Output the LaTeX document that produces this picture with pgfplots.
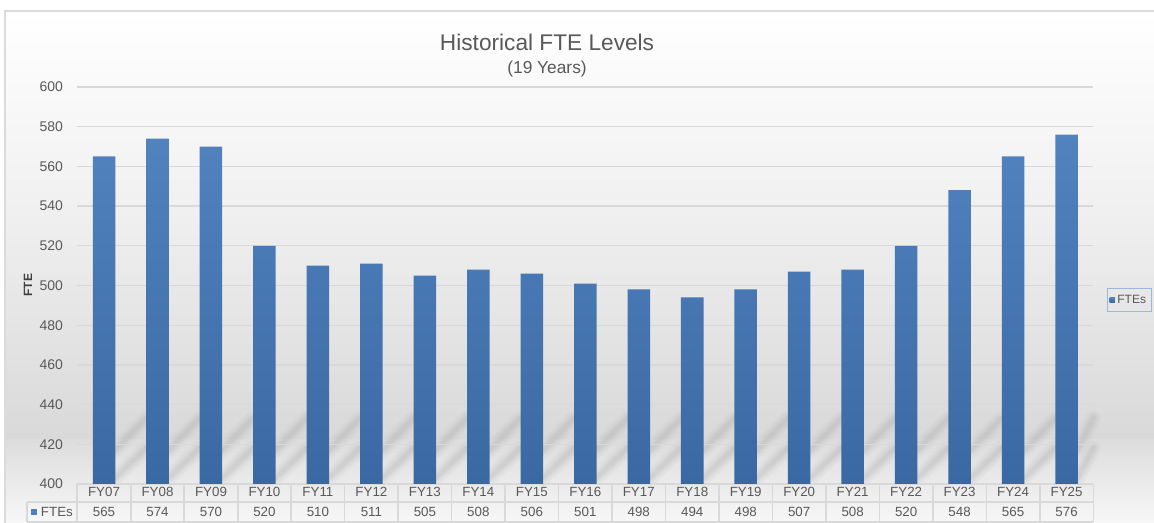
\documentclass[border=0pt]{standalone}
\usepackage{fontspec}
\setmainfont{Liberation Sans}
\usepackage{pgfplots}
\usepackage{pgfplotstable}
\pgfplotsset{compat=1.18}

\definecolor{bartop}{HTML}{5283BF}
\definecolor{barbot}{HTML}{3A68A2}
\definecolor{txt}{HTML}{595959}
\definecolor{gridc}{HTML}{D9D9D9}
\definecolor{legc}{HTML}{9BB7DA}

\pgfplotstableread{
x year fte
0  FY07 565
1  FY08 574
2  FY09 570
3  FY10 520
4  FY11 510
5  FY12 511
6  FY13 505
7  FY14 508
8  FY15 506
9  FY16 501
10 FY17 498
11 FY18 494
12 FY19 498
13 FY20 507
14 FY21 508
15 FY22 520
16 FY23 548
17 FY24 565
18 FY25 576
}\ftedata

\begin{document}
\begin{tikzpicture}
% chart-area background
\fill[top color=white, bottom color=white!94.5!black] (-54.45pt,355pt) rectangle (807.525pt,213pt);
\fill[top color=white!94.5!black, bottom color=white!85!black] (-54.45pt,213.1pt) rectangle (807.525pt,33pt);
\fill[top color=white!86.5!black, bottom color=white!97!black] (-54.45pt,33.1pt) rectangle (807.525pt,-29.25pt);
% soft reflection streaks
\foreach \k in {0,...,18}{
  \pgfmathsetmacro{\gl}{(\k+0.5)*40.105+8.45}
  \pgfmathsetmacro{\gr}{min((\k+1.5)*40.105-8.45,762)}
  \foreach \ya/\yb in {25.5/49.5, 4.5/27}{
    \draw[black!45, opacity=0.06, line width=11pt, line cap=round] (\gl pt,\ya pt) -- (\gr pt,\yb pt);
    \draw[black!45, opacity=0.08, line width=7pt, line cap=round] (\gl pt,\ya pt) -- (\gr pt,\yb pt);
    \draw[black!45, opacity=0.10, line width=3.5pt, line cap=round] (\gl pt,\ya pt) -- (\gr pt,\yb pt);
  }
}
% outer frame
\draw[white!86!black, line width=1.3pt] (-54.45pt,-29.25pt) -- (-54.45pt,355pt) -- (807.525pt,355pt);

\begin{axis}[
  at={(0,0)}, anchor=south west,
  scale only axis, width=762pt, height=297.75pt,
  xmin=-0.5, xmax=18.5, ymin=400, ymax=600,
  xtick={0,...,18},
  xticklabels={FY07,FY08,FY09,FY10,FY11,FY12,FY13,FY14,FY15,FY16,FY17,FY18,FY19,FY20,FY21,FY22,FY23,FY24,FY25},
  ytick={400,420,...,600},
  /pgf/number format/assume math mode=true,
  axis line style={draw=none},
  major tick length=0pt,
  ymajorgrids, grid style={gridc, line width=1pt},
  tick label style={text=txt},
  yticklabel style={font=\fontsize{10.5}{12}\selectfont, anchor=east, xshift=-7.2pt},
  xticklabel style={font=\fontsize{10}{12}\selectfont, anchor=base, yshift=-9.5pt},
  ylabel={FTE},
  ylabel style={at={(axis description cs:-0.0485,0.501)}, anchor=center, font=\bfseries\fontsize{9}{10}\selectfont, text=black!75},
  legend style={at={(1.0135,0.4635)}, anchor=west, draw=legc, fill=none,
    font=\fontsize{9}{10}\selectfont, text=txt, inner xsep=1.8pt, inner ysep=2.6pt},
  legend cell align=left,
]
\addplot[ybar, bar width=16.9pt, draw=none, top color=bartop, bottom color=barbot,
  legend image code/.code={\fill[bartop] (0pt,-1.9pt) rectangle (3.75pt,1.9pt);}]
  table[x=x, y=fte] {\ftedata};
\addlegendentry{FTEs}
\addplot[draw=none, mark=none, forget plot, nodes near coords, point meta=explicit symbolic,
  nodes near coords style={anchor=base, yshift=-24.5pt, font=\fontsize{10}{12}\selectfont, text=txt}]
  table[x=x, y expr=400, meta=fte] {\ftedata};
\end{axis}

% data table grid
\foreach \k in {0,...,19}{
  \draw[gridc, line width=1.2pt] (\k*40.105pt,0pt) -- (\k*40.105pt,-28.3pt);
}
\draw[gridc, line width=1.2pt] (-37.7pt,-13.7pt) -- (762pt,-13.7pt);
\draw[gridc, line width=1.2pt] (-37.7pt,-28.3pt) -- (762pt,-28.3pt);
\draw[gridc, line width=1.2pt] (-37.7pt,-13.7pt) -- (-37.7pt,-28.3pt);
\fill[bartop!90!barbot] (-34.95pt,-18.75pt) rectangle (-30.45pt,-23.25pt);
\node[anchor=base west, inner sep=0pt, font=\fontsize{10}{12}\selectfont, text=txt] at (-27.45pt,-24.5pt) {FTEs};

% titles
\node[anchor=base, inner sep=0pt, font=\fontsize{17}{20}\selectfont, text=txt] at (352.3pt,325pt) {Historical FTE Levels};
\node[anchor=base, inner sep=0pt, font=\fontsize{13}{15}\selectfont, text=txt] at (352.3pt,307.9pt) {(19 Years)};

\pgfresetboundingbox
\useasboundingbox (-57.975pt,-29.25pt) rectangle (807.525pt,363pt);
\end{tikzpicture}
\end{document}
